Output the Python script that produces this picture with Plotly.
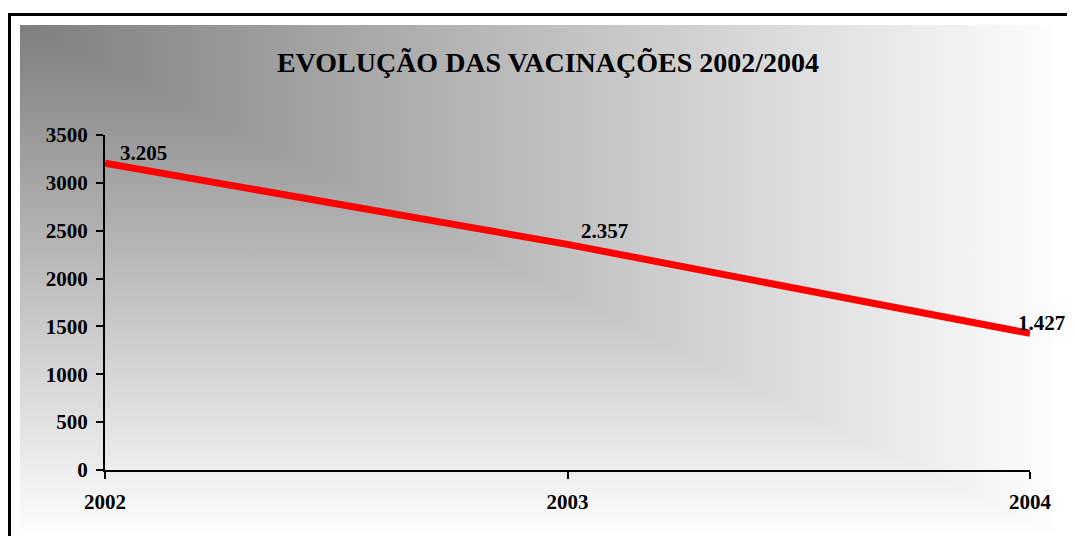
import base64
import plotly.graph_objects as go

# data
anos = ['2002', '2003', '2004']
vacinacoes = [3205, 2357, 1427]
y_ticks = [0, 500, 1000, 1500, 2000, 2500, 3000, 3500]

titulo = 'EVOLUÇÃO DAS VACINAÇÕES 2002/2004'
serif = 'Times New Roman, Liberation Serif, serif'

# label offsets (px) per point
lbl_dx = [13, 11, -14]
lbl_dy = [10, 13, 10]

# page body has an 8px margin, so figure px = screen px - 8
OFF = 8
W, H = 1067, 528
L, T = 105 - OFF, 135 - OFF
pw, ph = 1030 - 105, 470 - 135
R, B = W - L - pw, H - T - ph


def px_x(p):
    return (p - OFF - L) / pw


def px_y(p):
    return (T + ph - (p - OFF)) / ph


# "from corner" gradient: two linear gradients blended with lighten
svg = '''<svg xmlns="http://www.w3.org/2000/svg" width="1035" height="508">
<defs>
<linearGradient id="h" x1="0" y1="0" x2="1" y2="0">
<stop offset="0" stop-color="#7e7e7e"/><stop offset="1" stop-color="#fdfdfd"/></linearGradient>
<linearGradient id="v" x1="0" y1="0" x2="0" y2="1">
<stop offset="0" stop-color="#7e7e7e"/><stop offset="1" stop-color="#fdfdfd"/></linearGradient>
</defs>
<rect x="0" y="0" width="1035" height="508" fill="url(#h)"/>
<rect x="0" y="0" width="1035" height="508" fill="url(#v)" style="mix-blend-mode:lighten"/>
</svg>'''
bg_src = 'data:image/svg+xml;base64,' + base64.b64encode(svg.encode('utf-8')).decode('ascii')

fig = go.Figure()
fig.add_trace(go.Scatter(x=anos, y=vacinacoes, mode='lines',
                         line=dict(color='#ff0000', width=7),
                         hoverinfo='skip', cliponaxis=False))

# data labels, pt-PT thousands separator (x as category index)
for i, v in enumerate(vacinacoes):
    fig.add_annotation(x=i, y=v, text='<b>' + f'{v:,}'.replace(',', '.') + '</b>',
                       showarrow=False, xanchor='left', yanchor='middle',
                       xshift=lbl_dx[i], yshift=lbl_dy[i],
                       font=dict(family=serif, size=21, color='black'))

fig.add_layout_image(source=bg_src, xref='paper', yref='paper',
                     x=px_x(20), y=px_y(25), sizex=1035 / pw, sizey=508 / ph,
                     xanchor='left', yanchor='top', sizing='stretch', layer='below')

# outer frame (right/bottom sides fall off the canvas)
fig.add_shape(type='rect', xref='paper', yref='paper',
              x0=px_x(9.5), y0=px_y(600), x1=px_x(1120), y1=px_y(14.5),
              line=dict(color='black', width=3), fillcolor='rgba(0,0,0,0)', layer='below')

tick_font = dict(family=serif, size=21, color='black', weight='bold')
fig.update_xaxes(type='category', range=[0, 2], showline=True, linewidth=2, linecolor='black',
                 ticks='outside', ticklen=7, tickwidth=2, tickcolor='black',
                 ticklabelstandoff=5,
                 showgrid=False, zeroline=False, tickfont=tick_font)
fig.update_yaxes(range=[0, 3500], tickvals=y_ticks, showline=True, linewidth=2, linecolor='black',
                 ticks='outside', ticklen=7, tickwidth=2, tickcolor='black',
                 ticklabelstandoff=4,
                 showgrid=False, zeroline=False, tickfont=tick_font)

fig.update_layout(width=W, height=H, margin=dict(l=L, r=R, t=T, b=B),
                  paper_bgcolor='white', plot_bgcolor='rgba(0,0,0,0)',
                  showlegend=False,
                  title=dict(text='<b>' + titulo + '</b>', x=(548 - OFF) / W, xanchor='center',
                             y=1 - (62 - OFF) / H, yanchor='middle', yref='container',
                             font=dict(family=serif, size=28, color='black')))

fig.write_html('out.html')
